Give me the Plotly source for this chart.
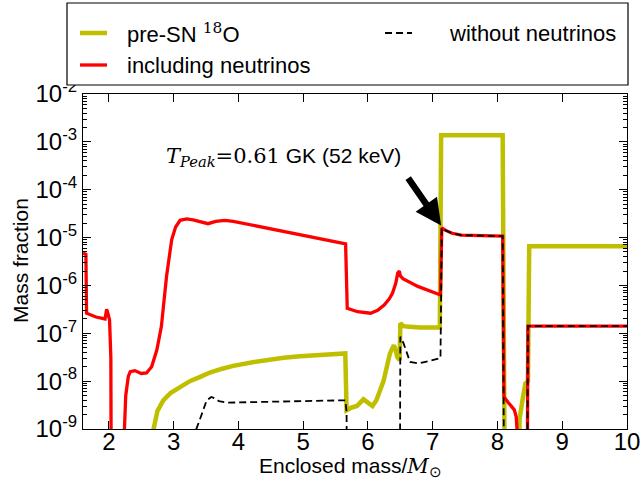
import numpy as np
import plotly.graph_objects as go

# ---------------- data ----------------
# pre-SN 18O
pre_x = [2.68, 2.69, 2.75, 2.84, 2.95, 3.10, 3.25, 3.41, 3.56, 3.75, 3.92, 4.20, 4.44, 4.70,
         4.95, 5.30, 5.65, 5.67, 5.75, 5.83, 5.93, 6.00, 6.07, 6.13, 6.19, 6.24, 6.30, 6.34,
         6.40, 6.43, 6.45, 6.49, 6.50, 6.55, 6.60, 6.80, 7.11, 7.13, 8.08, 8.10, 8.12, 8.33,
         8.34, 8.38, 8.43, 8.47, 8.49, 10.0]
pre_logy = [-12, -9.0, -8.62, -8.40, -8.25, -8.12, -8.00, -7.91, -7.82, -7.74, -7.68, -7.61,
            -7.56, -7.51, -7.48, -7.45, -7.42, -8.61, -8.55, -8.52, -8.38, -8.45, -8.52, -8.40,
            -8.19, -8.00, -7.65, -7.42, -7.25, -7.35, -7.49, -7.56, -6.79, -6.85, -6.86, -6.88,
            -6.88, -2.86, -2.86, -8.30, -12, -12, -8.80, -8.45, -8.05, -8.00, -5.18, -5.18]

# including neutrinos
inc_x = [1.60, 1.645, 1.655, 1.80, 1.94, 1.955, 1.965, 1.98, 2.01, 2.03, 2.04, 2.22, 2.24,
         2.26, 2.30, 2.33, 2.40, 2.50, 2.58, 2.66, 2.74, 2.81, 2.89, 2.97, 3.03, 3.10, 3.20,
         3.30, 3.41, 3.53, 3.65, 3.79, 3.92, 5.655, 5.68, 5.84, 6.04, 6.15, 6.25, 6.33, 6.38,
         6.43, 6.46, 6.485, 6.50, 6.54, 6.77, 7.12, 7.14, 7.20, 7.30, 7.44, 8.08, 8.10, 8.18,
         8.26, 8.29, 8.31, 8.33, 8.455, 8.47, 10.0]
inc_logy = [-5.32, -5.35, -6.58, -6.66, -6.70, -6.60, -6.50, -6.56, -6.72, -7.50, -12, -12,
            -9.0, -8.30, -7.90, -7.80, -7.78, -7.84, -7.83, -7.70, -7.35, -6.86, -5.81, -5.04,
            -4.78, -4.64, -4.61, -4.63, -4.67, -4.71, -4.66, -4.64, -4.66, -5.13, -6.48, -6.55,
            -6.58, -6.52, -6.41, -6.28, -6.16, -5.95, -5.74, -5.70, -5.80, -5.86, -6.02, -6.20,
            -4.80, -4.85, -4.91, -4.95, -4.97, -8.33, -8.47, -8.60, -8.75, -9.20, -12, -12,
            -6.85, -6.85]

# without neutrinos
wo_x = [3.33, 3.35, 3.41, 3.51, 3.58, 3.64, 3.70, 3.84, 4.50, 5.00, 5.65, 5.67, 5.68, 6.49,
        6.50, 6.55, 6.65, 6.78, 7.12, 7.14, 7.20, 7.30, 7.44, 8.08, 8.10, 8.11, 8.455, 8.47, 10.0]
wo_logy = [-12, -9.0, -8.78, -8.40, -8.33, -8.36, -8.42, -8.45, -8.43, -8.42, -8.40, -8.64,
           -12, -12, -7.07, -7.21, -7.60, -7.63, -7.52, -4.80, -4.85, -4.91, -4.95, -4.97,
           -8.40, -12, -12, -6.85, -6.85]

x_ticks = [2, 3, 4, 5, 6, 7, 8, 9, 10]
y_ticks = [1e-9, 1e-8, 1e-7, 1e-6, 1e-5, 1e-4, 1e-3, 1e-2]
y_ticktext = ["10<sup>-9</sup>", "10<sup>-8</sup>", "10<sup>-7</sup>", "10<sup>-6</sup>",
              "10<sup>-5</sup>", "10<sup>-4</sup>", "10<sup>-3</sup>", "10<sup>-2</sup>"]

YELLOW = "#bfbf00"
RED = "#ff0000"
SANS = "Liberation Sans, Arial, sans-serif"

fig = go.Figure()
fig.add_trace(go.Scatter(x=pre_x, y=np.power(10.0, pre_logy), mode="lines",
                         line=dict(color=YELLOW, width=4.5), showlegend=False))
fig.add_trace(go.Scatter(x=inc_x, y=np.power(10.0, inc_logy), mode="lines",
                         line=dict(color=RED, width=3.3), showlegend=False))
fig.add_trace(go.Scatter(x=wo_x, y=np.power(10.0, wo_logy), mode="lines",
                         line=dict(color="black", width=1.8, dash="7px,4px"), showlegend=False))

fig.update_layout(
    width=643, height=480,
    margin=dict(l=83, r=16, t=94, b=51, pad=0),
    paper_bgcolor="white", plot_bgcolor="white",
    font=dict(family=SANS, size=21, color="black"),
)
fig.update_xaxes(range=[1.6, 10], tickvals=x_ticks, ticks="inside", ticklen=8,
                 tickwidth=1, tickcolor="black", showline=True, linecolor="black",
                 linewidth=1.2, mirror="allticks", showgrid=False, zeroline=False,
                 tickfont=dict(size=24), automargin=False, ticklabelstandoff=-9)
fig.update_yaxes(type="log", range=[-9, -2], tickvals=y_ticks, ticktext=y_ticktext,
                 ticks="inside", ticklen=8, tickwidth=1, tickcolor="black",
                 showline=True, linecolor="black", linewidth=1.2, mirror="allticks",
                 showgrid=False, zeroline=False, tickfont=dict(size=24), automargin=False,
                 minor=dict(ticks="inside", ticklen=4, tickcolor="black", dtick="D1",
                            showgrid=False))

# pixel -> paper helpers (plot area: x 83..627, y 94..429)
PW, PH = 544.0, 335.0
def px(xp):
    return (xp - 83) / PW
def py(yp):
    return (429 - yp) / PH

# axis titles
fig.add_annotation(x=px(350), y=py(467), xref="paper", yref="paper", showarrow=False,
                   xanchor="center", yanchor="middle",
                   text="Enclosed mass/<span style='font-family:DejaVu Serif'><i>M</i></span><sub>⊙</sub>",
                   font=dict(size=21, color="black"))
fig.add_annotation(x=px(20), y=py(261), xref="paper", yref="paper", showarrow=False,
                   xanchor="center", yanchor="middle", textangle=-90,
                   text="Mass fraction", font=dict(size=21, color="black"))

# annotation text and arrow
fig.add_annotation(x=4.69, y=-3.325, xref="x", yref="y", showarrow=False,
                   text="<span style='font-family:DejaVu Serif'><i>T</i><sub><i>Peak</i></sub>=0.61</span> GK (52 keV)",
                   font=dict(size=21, color="black"))
fig.add_annotation(x=7.13, y=-4.75, xref="x", yref="y", text="", showarrow=True,
                   ax=-34, ay=-49, axref="pixel", ayref="pixel",
                   arrowhead=2, arrowsize=0.8, arrowwidth=6.5, arrowcolor="black", standoff=0)

# legend box (drawn in paper coordinates)
fig.add_shape(type="rect", xref="paper", yref="paper", x0=px(67), x1=px(628), y0=py(85), y1=py(3),
              line=dict(color="black", width=1.2), fillcolor="white", layer="above")
fig.add_shape(type="line", xref="paper", yref="paper", x0=px(80), x1=px(107), y0=py(33), y1=py(33),
              line=dict(color=YELLOW, width=4.5))
fig.add_shape(type="line", xref="paper", yref="paper", x0=px(80), x1=px(107), y0=py(65), y1=py(65),
              line=dict(color=RED, width=3.3))
fig.add_shape(type="line", xref="paper", yref="paper", x0=px(385), x1=px(412), y0=py(33), y1=py(33),
              line=dict(color="black", width=1.8, dash="7px,4px"))
legend_items = [("pre-SN <span style='font-family:DejaVu Serif'><sup>18</sup></span>O", 125, 33),
                ("including neutrinos", 125, 65),
                ("without neutrinos", 447, 33)]
for txt, lx, ly in legend_items:
    fig.add_annotation(x=px(lx), y=py(ly), xref="paper", yref="paper", text=txt,
                       showarrow=False, xanchor="left", yanchor="middle",
                       font=dict(size=22, color="black"))

fig.write_html("out.html", config={"displayModeBar": False},
               post_script="document.body.style.margin='0px';")
